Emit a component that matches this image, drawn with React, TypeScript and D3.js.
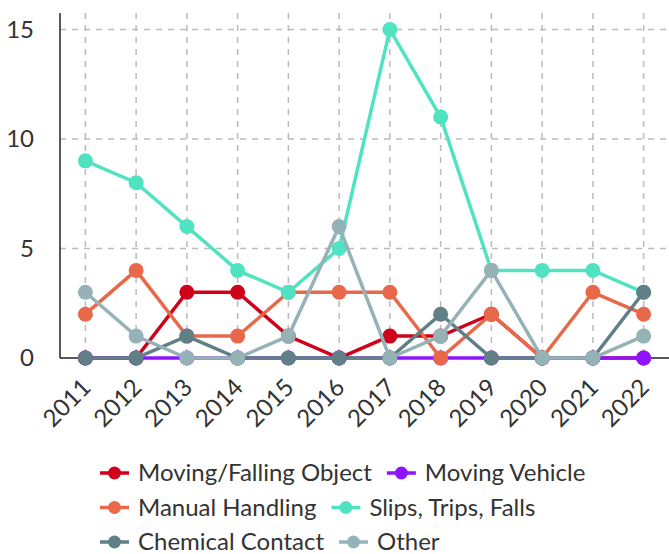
import React from "react";
import * as d3 from "d3";

const years = ["2011","2012","2013","2014","2015","2016","2017","2018","2019","2020","2021","2022"];
const seriesNames = ["Moving/Falling Object","Moving Vehicle","Manual Handling","Slips, Trips, Falls","Chemical Contact","Other"];
const colors = ["#d0021b","#9013fe","#e8694a","#50e3c2","#607f86","#95b2b7"];
const movingFalling = [0,0,3,3,1,0,1,1,2,0,0,0];
const movingVehicle = [0,0,0,0,0,0,0,0,0,0,0,0];
const manualHandling = [2,4,1,1,3,3,3,0,2,0,3,2];
const slipsTripsFalls = [9,8,6,4,3,5,15,11,4,4,4,3];
const chemicalContact = [0,0,1,0,0,0,0,2,0,0,0,3];
const other = [3,1,0,0,1,6,0,1,4,0,0,1];
const yTicks = [0,5,10,15];

const seriesValues = [movingFalling, movingVehicle, manualHandling, slipsTripsFalls, chemicalContact, other];

export default function App() {
  const W = 669, H = 554;
  const left = 60, right = 669, top = 13, bottom = 358;
  const x = d3.scaleBand<string>().domain(years).range([left, right]);
  const cx = (yr: string) => (x(yr) as number) + x.bandwidth() / 2;
  const y = d3.scaleLinear().domain([0, 15.75]).range([bottom, top]);
  const line = d3.line<number>().x((_, i) => cx(years[i])).y((v) => y(v));
  const font = "Lato, 'Open Sans', sans-serif";
  const textColor = "#333";
  const fs = 24;

  const legendRows = [[0, 1], [2, 3], [4, 5]];
  const legendGap = 15;
  const measure = (t: string) => {
    if (typeof document === "undefined") return t.length * 11;
    const c = document.createElement("canvas").getContext("2d");
    if (!c) return t.length * 11;
    c.font = `${fs}px Lato`;
    return c.measureText(t).width;
  };

  return (
    <div style={{ position: "absolute", left: 0, top: 0, width: W, height: H }}>
      <svg width={W} height={H} style={{ display: "block", fontFamily: font }}>
        {years.map((yr) => (
          <line key={"gv" + yr} x1={cx(yr)} x2={cx(yr)} y1={top} y2={bottom} stroke="#bbb" strokeWidth={1.5} strokeDasharray="6,6" />
        ))}
        {yTicks.filter((t) => t > 0).map((t) => (
          <line key={"gh" + t} x1={left} x2={right} y1={y(t)} y2={y(t)} stroke="#bbb" strokeWidth={1.5} strokeDasharray="6,6" />
        ))}
        <line x1={left} x2={left} y1={top} y2={bottom} stroke="#222" strokeWidth={1.5} />
        <line x1={left} x2={right} y1={bottom} y2={bottom} stroke="#222" strokeWidth={1.5} />
        {yTicks.map((t) => (
          <text key={"yt" + t} x={34} y={y(t)} dy="0.35em" textAnchor="end" fontSize={fs} fill={textColor}>{t}</text>
        ))}
        {years.map((yr) => (
          <text key={"xt" + yr} transform={`translate(${cx(yr) + 7},${bottom + 31}) rotate(-45)`} textAnchor="end" fontSize={fs} fill={textColor}>{yr}</text>
        ))}
        {seriesValues.map((vals, si) => (
          <g key={"s" + si}>
            <path d={line(vals) || ""} fill="none" stroke={colors[si]} strokeWidth={3.5} />
            {vals.map((v, i) => (
              <circle key={i} cx={cx(years[i])} cy={y(v)} r={7.5} fill={colors[si]} />
            ))}
          </g>
        ))}
        {legendRows.map((row, ri) => {
          let xPos = 100;
          const yPos = 473 + ri * 34.5;
          return row.map((si) => {
            const x0 = xPos;
            const w = measure(seriesNames[si]);
            xPos = x0 + 38 + w + legendGap;
            return (
              <g key={"lg" + si}>
                <line x1={x0} x2={x0 + 29} y1={yPos} y2={yPos} stroke={colors[si]} strokeWidth={3.5} />
                <circle cx={x0 + 14.5} cy={yPos} r={6.5} fill={colors[si]} />
                <text x={x0 + 38} y={yPos} dy="0.35em" fontSize={fs} fill={textColor}>{seriesNames[si]}</text>
              </g>
            );
          });
        })}
      </svg>
    </div>
  );
}
